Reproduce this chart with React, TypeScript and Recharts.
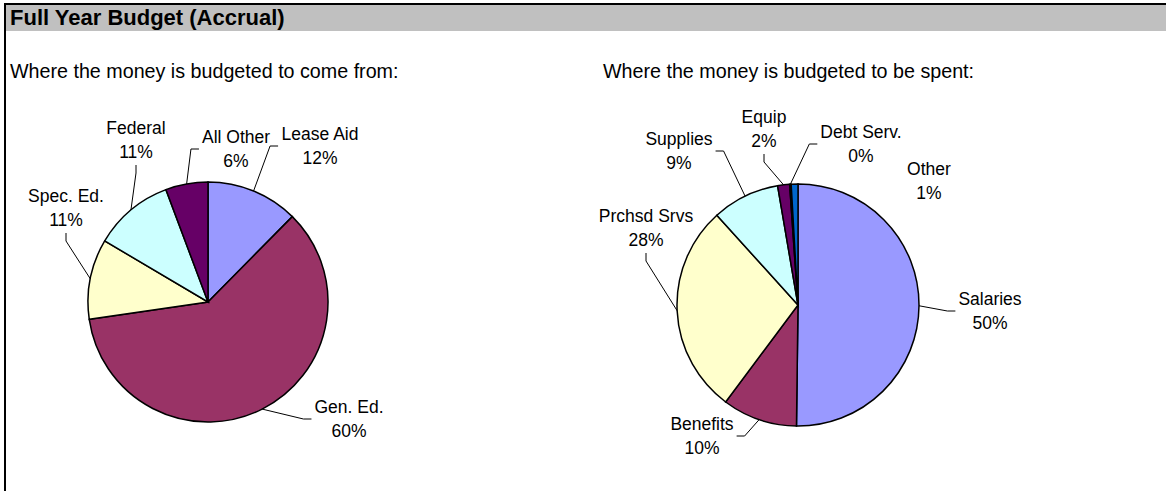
import { PieChart, Pie, Cell } from "recharts"

const fromNames = ["Lease Aid", "Gen. Ed.", "Spec. Ed.", "Federal", "All Other"]
const fromValues = [12.4, 60.3, 10.8, 10.8, 5.7]
const fromColors = ["#9999FF", "#993366", "#FFFFCC", "#CCFFFF", "#660066"]

const spentNames = ["Salaries", "Benefits", "Prchsd Srvs", "Supplies", "Equip", "Debt Serv.", "Other"]
const spentValues = [50.2, 10.0, 28.1, 9.0, 1.6, 0.2, 0.9]
const spentColors = ["#9999FF", "#993366", "#FFFFCC", "#CCFFFF", "#660066", "#FF8080", "#0066CC"]

const fromData = fromNames.map((name, i) => ({ name, value: fromValues[i] }))
const spentData = spentNames.map((name, i) => ({ name, value: spentValues[i] }))

// where each label block sits, relative to the pie centre, and where its leader starts
type Place = { dx: number; dy: number; side: "left" | "right" | "bottom" | "none" }
const fromPlaces: Place[] = [
  { dx: 112, dy: -156, side: "left" },
  { dx: 141, dy: 117, side: "left" },
  { dx: -142, dy: -94, side: "bottom" },
  { dx: -72, dy: -162, side: "bottom" },
  { dx: 28, dy: -153, side: "left" },
]
const spentPlaces: Place[] = [
  { dx: 192, dy: 6, side: "left" },
  { dx: -96, dy: 131, side: "right" },
  { dx: -152, dy: -77, side: "bottom" },
  { dx: -119, dy: -154, side: "right" },
  { dx: -34, dy: -176, side: "bottom" },
  { dx: 63, dy: -161, side: "left" },
  { dx: 131, dy: -124, side: "none" },
]

const FONT = "'Liberation Sans', Arial, sans-serif"
const LABEL_SIZE = 17.5

let ctx: CanvasRenderingContext2D | null = null
function textWidth(s: string) {
  if (!ctx) ctx = document.createElement("canvas").getContext("2d")
  if (!ctx) return s.length * 8
  ctx.font = `${LABEL_SIZE}px ${FONT}`
  return ctx.measureText(s).width
}

const makeLabel = (places: Place[]) => (props: any) => {
  const { cx, cy, midAngle, outerRadius, index, percent, payload } = props
  const p = places[index]
  const RAD = Math.PI / 180
  const ex = cx + outerRadius * Math.cos(-midAngle * RAD)
  const ey = cy + outerRadius * Math.sin(-midAngle * RAD)
  const lx = cx + p.dx
  const ly = cy + p.dy
  const name = payload.name
  const pct = Math.round(percent * 100) + "%"
  const half = Math.max(textWidth(name), textWidth(pct)) / 2
  let pts = ""
  if (p.side === "left") {
    const ax = lx - half - 3
    pts = `${ax},${ly} ${ax - 8},${ly} ${ex},${ey}`
  } else if (p.side === "right") {
    const ax = lx + half + 3
    pts = `${ax},${ly} ${ax + 8},${ly} ${ex},${ey}`
  } else if (p.side === "bottom") {
    pts = `${lx},${ly + 25} ${lx},${ly + 33} ${ex},${ey}`
  }
  return (
    <g key={`lbl-${index}`}>
      {pts && <polyline points={pts} fill="none" stroke="#000" strokeWidth={1} />}
      <text textAnchor="middle" dominantBaseline="central" fontFamily={FONT} fontSize={LABEL_SIZE} fill="#000">
        <tspan x={lx} y={ly - 12}>{name}</tspan>
        <tspan x={lx} y={ly + 12}>{pct}</tspan>
      </text>
    </g>
  )
}

export default function App() {
  return (
    <div style={{ position: "absolute", left: 0, top: 0, width: 1166, height: 491, background: "#fff" }}>
      <svg width={1166} height={491} style={{ position: "absolute", left: 0, top: 0 }}>
        <rect x={6} y={5} width={1160} height={26} fill="#C0C0C0" />
        <rect x={4} y={3} width={1162} height={2} fill="#000" />
        <rect x={4} y={3} width={2} height={488} fill="#000" />
        <text x={10} y={25} fontFamily={FONT} fontSize={22} fontWeight="bold" fill="#000">
          Full Year Budget (Accrual)
        </text>
        <text x={10} y={78} fontFamily={FONT} fontSize={19.7} fill="#000">
          Where the money is budgeted to come from:
        </text>
        <text x={603} y={78} fontFamily={FONT} fontSize={19.7} fill="#000">
          Where the money is budgeted to be spent:
        </text>
      </svg>
      <div style={{ position: "absolute", left: 0, top: 0 }}>
        <PieChart width={1166} height={491} margin={{ top: 0, right: 0, bottom: 0, left: 0 }}>
          <Pie
            data={fromData}
            dataKey="value"
            nameKey="name"
            cx={208}
            cy={302}
            outerRadius={120}
            startAngle={90}
            endAngle={-270}
            stroke="#000"
            strokeWidth={1.5}
            label={makeLabel(fromPlaces)}
            labelLine={false}
            isAnimationActive={false}
          >
            {fromData.map((d, i) => (
              <Cell key={d.name} fill={fromColors[i]} />
            ))}
          </Pie>
          <Pie
            data={spentData}
            dataKey="value"
            nameKey="name"
            cx={798}
            cy={305}
            outerRadius={121}
            startAngle={90}
            endAngle={-270}
            stroke="#000"
            strokeWidth={1.5}
            label={makeLabel(spentPlaces)}
            labelLine={false}
            isAnimationActive={false}
          >
            {spentData.map((d, i) => (
              <Cell key={d.name} fill={spentColors[i]} />
            ))}
          </Pie>
        </PieChart>
      </div>
    </div>
  )
}
